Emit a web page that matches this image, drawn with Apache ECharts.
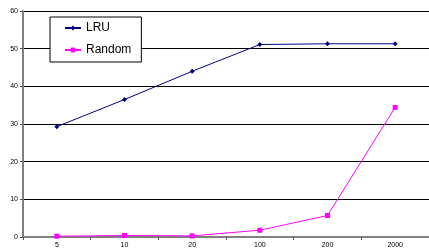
<!DOCTYPE html>
<html>
<head>
<meta charset="utf-8">
<script src="https://cdn.jsdelivr.net/npm/echarts@6/dist/echarts.min.js"></script>
<style>
  html, body { margin: 0; padding: 0; background: #fff; }
  #main { width: 429px; height: 250px; }
</style>
</head>
<body>
<div id="main"></div>
<script>
var categories = ['5', '10', '20', '100', '200', '2000'];
var lruValues = [29.3, 36.5, 44.0, 51.1, 51.3, 51.3];
var randomValues = [0.2, 0.4, 0.3, 1.8, 5.7, 34.4];
var yTicks = [0, 10, 20, 30, 40, 50, 60];

var myChart = echarts.init(document.getElementById('main'));

var option = {
    animation: false,
    textStyle: { fontFamily: 'Liberation Sans, Arial, sans-serif' },
    legend: {
        orient: 'vertical',
        left: 50,
        top: 17,
        padding: [5, 10, 6, 14],
        itemGap: 10,
        itemWidth: 16,
        itemHeight: 6,
        borderColor: '#000',
        borderWidth: 1,
        backgroundColor: '#fff',
        textStyle: { fontSize: 12, color: '#000' },
        data: ['LRU', 'Random']
    },
    grid: { left: 23, right: -1, top: 11, bottom: 13 },
    xAxis: {
        type: 'category',
        data: categories,
        boundaryGap: true,
        axisLine: { lineStyle: { color: '#808080', width: 2 } },
        axisTick: { show: true, length: 3, lineStyle: { color: '#555' } },
        axisLabel: { fontSize: 7, color: '#000', margin: 5 }
    },
    yAxis: {
        type: 'value',
        min: yTicks[0],
        max: yTicks[yTicks.length - 1],
        interval: 10,
        axisLine: { show: true, lineStyle: { color: '#808080', width: 2 } },
        axisTick: { show: true, length: 3, lineStyle: { color: '#555' } },
        axisLabel: { fontSize: 7, color: '#000', margin: 5 },
        splitLine: { lineStyle: { color: '#000', width: 1 } }
    },
    series: [{
        name: 'LRU',
        type: 'line',
        data: lruValues,
        symbol: 'diamond',
        symbolSize: 5,
        itemStyle: { color: '#000080' },
        lineStyle: { color: '#000080', width: 1 }
    }, {
        name: 'Random',
        type: 'line',
        data: randomValues,
        symbol: 'rect',
        symbolSize: 5,
        itemStyle: { color: '#FF00FF' },
        lineStyle: { color: '#FF00FF', width: 1 }
    }]
};

myChart.setOption(option);
</script>
</body>
</html>
